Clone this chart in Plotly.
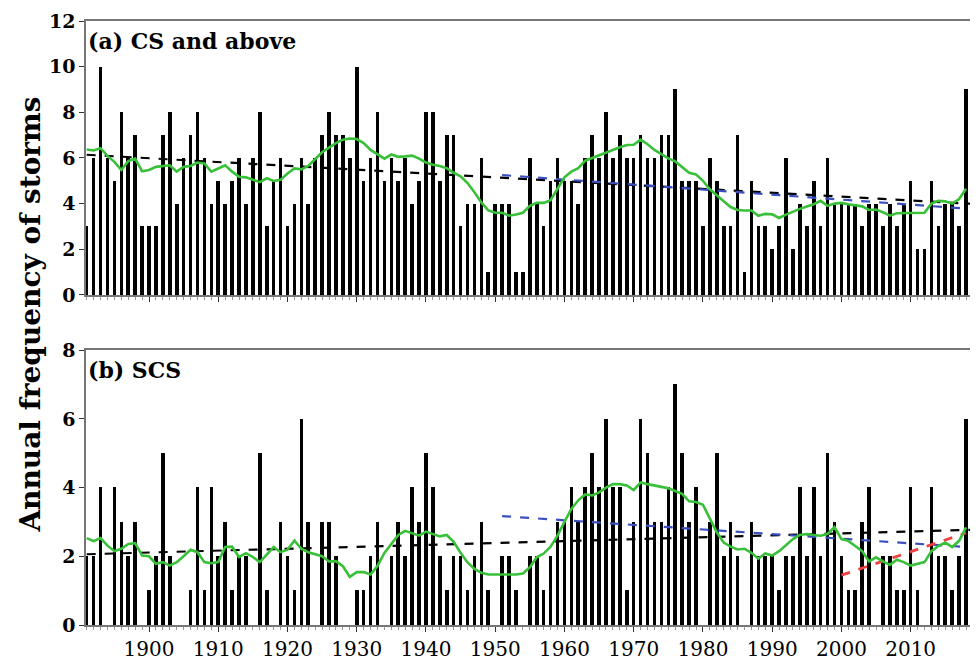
import plotly.graph_objects as go

years = list(range(1891, 2019))

cs_counts = [3, 6, 10, 6, 5, 8, 6, 7, 3, 3,
             3, 7, 8, 4, 6, 7, 8, 6, 4, 5,
             4, 5, 6, 4, 6, 8, 3, 5, 6, 3,
             4, 6, 4, 6, 7, 8, 7, 7, 6, 10,
             5, 6, 8, 5, 6, 5, 6, 4, 5, 8,
             8, 5, 7, 7, 3, 4, 4, 6, 1, 4,
             4, 4, 1, 1, 6, 4, 3, 5, 6, 5,
             5, 4, 6, 7, 6, 8, 6, 7, 6, 6,
             7, 6, 6, 7, 7, 9, 5, 5, 5, 3,
             6, 5, 3, 3, 7, 1, 5, 3, 3, 2,
             3, 6, 2, 4, 3, 5, 3, 6, 4, 4,
             4, 4, 3, 4, 4, 3, 4, 3, 4, 5,
             2, 2, 5, 3, 4, 4, 3, 9]

scs_counts = [2, 2, 4, 0, 4, 3, 2, 3, 0, 1,
              2, 5, 2, 0, 0, 1, 4, 1, 4, 2,
              3, 1, 2, 2, 0, 5, 1, 0, 3, 2,
              1, 6, 3, 0, 3, 3, 2, 0, 0, 1,
              1, 2, 3, 0, 2, 3, 2, 4, 3, 5,
              4, 2, 1, 2, 2, 1, 2, 3, 1, 0,
              2, 2, 1, 0, 2, 2, 1, 2, 3, 3,
              4, 3, 4, 5, 4, 6, 4, 4, 1, 3,
              6, 5, 3, 3, 4, 7, 5, 3, 4, 0,
              3, 5, 2, 3, 2, 0, 3, 2, 2, 2,
              1, 2, 2, 4, 2, 4, 2, 5, 3, 2,
              1, 1, 3, 4, 0, 2, 2, 1, 1, 4,
              1, 0, 4, 2, 2, 1, 2, 6]

cs_smooth = [6.37, 6.33, 6.43, 6.09, 5.83, 5.47, 5.86, 5.97, 5.42, 5.47,
             5.61, 5.65, 5.68, 5.40, 5.61, 5.65, 5.80, 5.76, 5.40, 5.54,
             5.68, 5.40, 5.18, 5.15, 5.04, 4.94, 5.11, 4.99, 5.04, 5.32,
             5.54, 5.50, 5.65, 5.95, 6.25, 6.45, 6.65, 6.80, 6.85, 6.83,
             6.65, 6.35, 6.15, 5.97, 6.15, 6.05, 6.07, 6.10, 5.97, 5.80,
             5.70, 5.65, 5.55, 5.35, 5.20, 4.90, 4.50, 4.05, 3.70, 3.60,
             3.60, 3.47, 3.52, 3.60, 3.90, 4.03, 4.03, 4.15, 4.65, 5.15,
             5.40, 5.55, 5.88, 6.00, 6.10, 6.25, 6.37, 6.47, 6.57, 6.58,
             6.80, 6.60, 6.35, 6.15, 5.98, 5.85, 5.60, 5.35, 5.28, 5.00,
             4.63, 4.35, 4.10, 3.85, 3.72, 3.70, 3.70, 3.47, 3.55, 3.53,
             3.37, 3.52, 3.65, 3.77, 3.87, 3.97, 4.12, 3.90, 4.00, 4.03,
             3.97, 3.93, 3.88, 3.72, 3.74, 3.62, 3.47, 3.58, 3.58, 3.58,
             3.60, 3.60, 4.00, 4.12, 4.10, 4.00, 4.20, 4.65]

scs_smooth = [2.53, 2.44, 2.53, 2.31, 2.15, 2.22, 2.36, 2.38, 2.02, 2.00,
              1.78, 1.83, 1.73, 1.83, 2.00, 2.19, 2.12, 1.83, 1.80, 1.83,
              2.27, 2.28, 1.98, 2.09, 1.98, 1.83, 2.05, 2.27, 2.12, 2.19,
              2.46, 2.22, 2.12, 2.05, 2.00, 1.85, 1.86, 1.71, 1.40, 1.54,
              1.54, 1.47, 1.72, 2.10, 2.35, 2.62, 2.74, 2.68, 2.60, 2.72,
              2.66, 2.58, 2.62, 2.42, 2.10, 1.82, 1.63, 1.52, 1.47, 1.47,
              1.47, 1.47, 1.47, 1.50, 1.68, 1.97, 2.08, 2.28, 2.60, 3.00,
              3.38, 3.63, 3.80, 3.77, 3.86, 4.00, 4.10, 4.10, 4.06, 3.93,
              4.15, 4.10, 4.05, 4.02, 3.98, 3.90, 3.82, 3.60, 3.58, 3.50,
              3.10, 2.70, 2.40, 2.28, 2.20, 2.22, 2.10, 1.93, 2.08, 2.02,
              2.15, 2.33, 2.50, 2.62, 2.65, 2.62, 2.60, 2.65, 2.85, 2.50,
              2.45, 2.30, 2.15, 1.85, 1.97, 1.85, 1.75, 1.90, 1.83, 1.73,
              1.78, 1.83, 2.15, 2.30, 2.40, 2.27, 2.45, 2.84]

# trend lines (end points)
trend_all_years = [1891, 2019]
cs_trend_all = [6.14, 3.99]
scs_trend_all = [2.06, 2.77]
trend_1951_years = [1951, 2018]
cs_trend_1951 = [5.25, 3.78]
scs_trend_1951 = [3.17, 2.27]
trend_2000_years = [2000, 2018]
scs_trend_2000 = [1.45, 2.68]

decade_ticks = list(range(1900, 2011, 10))
decade_labels = [str(y) for y in decade_ticks]

fig = go.Figure()

def add_panel(counts, smooth, trends, xa, ya):
    fig.add_trace(go.Bar(x=years, y=counts, width=0.52, marker_color="black",
                         marker_line_width=0, xaxis=xa, yaxis=ya, showlegend=False))
    for tx, ty, col, dash, w in trends:
        fig.add_trace(go.Scatter(x=tx, y=ty, mode="lines", xaxis=xa, yaxis=ya,
                                 line=dict(color=col, dash=dash, width=w), showlegend=False))
    fig.add_trace(go.Scatter(x=years, y=smooth, mode="lines", xaxis=xa, yaxis=ya,
                             line=dict(color="#38c038", width=2.6), showlegend=False))

add_panel(cs_counts, cs_smooth,
          [(trend_all_years, cs_trend_all, "black", "dash", 2.2),
           (trend_1951_years, cs_trend_1951, "#3a50c0", "dash", 2.2)],
          "x", "y")
add_panel(scs_counts, scs_smooth,
          [(trend_all_years, scs_trend_all, "black", "dash", 2.2),
           (trend_1951_years, scs_trend_1951, "#3a50c0", "dash", 2.2),
           (trend_2000_years, scs_trend_2000, "#f04040", "dash", 2.8)],
          "x2", "y2")

xcommon = dict(range=[1890.9, 2019.15], tickvals=decade_ticks, ticktext=decade_labels,
               ticks="outside", ticklen=5, tickwidth=1.2, tickcolor="#333",
               showline=True, linecolor="#777", linewidth=1.5, mirror=True,
               showgrid=False, zeroline=False,
               minor=dict(dtick=1, tick0=1891, ticks="outside", ticklen=3, tickcolor="#999"))
ycommon = dict(ticks="outside", ticklen=5, tickwidth=1.2, tickcolor="#333",
               showline=True, linecolor="#777", linewidth=1.5, mirror=True,
               showgrid=False, zeroline=False,
               tickfont=dict(family="DejaVu Serif", size=19, color="black", weight="bold"))

# the page body adds an 8px offset; the figure is sized to sit inside the window
fig.update_layout(
    width=970, height=655,
    margin=dict(l=78, r=2, t=9, b=33),
    paper_bgcolor="white", plot_bgcolor="white",
    bargap=0,
    xaxis=dict(**xcommon, anchor="y", showticklabels=False),
    yaxis=dict(**ycommon, domain=[0.5465, 1.0], range=[0, 12], tickvals=[0, 2, 4, 6, 8, 10, 12]),
    xaxis2=dict(**xcommon, anchor="y2", showticklabels=True,
                tickfont=dict(family="DejaVu Serif", size=20, color="black")),
    yaxis2=dict(**ycommon, domain=[0.0, 0.455], range=[0, 8], tickvals=[0, 2, 4, 6, 8]),
    annotations=[
        dict(text="<b>(a) CS and above</b>", xref="paper", yref="paper", x=0.0, y=0.967,
             xanchor="left", yanchor="middle", showarrow=False,
             font=dict(family="DejaVu Serif", size=22, color="black")),
        dict(text="<b>(b) SCS</b>", xref="paper", yref="paper", x=0.0, y=0.4225,
             xanchor="left", yanchor="middle", showarrow=False,
             font=dict(family="DejaVu Serif", size=22, color="black")),
        dict(text="<b>Annual frequency of storms</b>", xref="paper", yref="paper",
             x=-0.063, y=0.514, xanchor="center", yanchor="middle", textangle=-90,
             showarrow=False, font=dict(family="DejaVu Serif", size=28, color="black")),
    ],
)

fig.write_html("out.html")
